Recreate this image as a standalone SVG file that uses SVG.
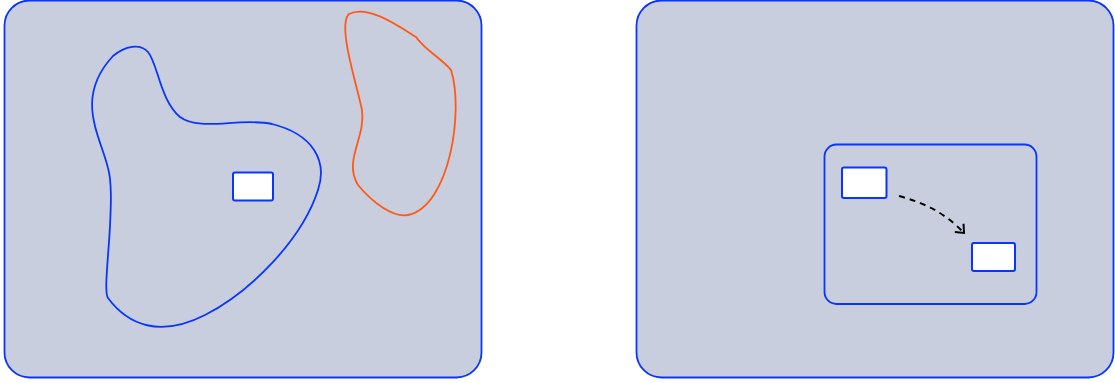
<svg xmlns="http://www.w3.org/2000/svg" width="1115" height="383" viewBox="0 0 1115 383">
<style>
.panel{fill:#c8cedd;stroke:#0a35ff;stroke-width:1.8}
.box{fill:#ffffff;stroke:#0a35ff;stroke-width:2}
.blob{fill:none;stroke-width:1.8}
.conn{fill:none;stroke:#000;stroke-width:2;stroke-dasharray:6,5}
</style>
<defs>
<marker id="arr" markerWidth="14" markerHeight="14" refX="9" refY="7" orient="auto" markerUnits="userSpaceOnUse">
<path d="M2,1 L9,7 L2,13" fill="none" stroke="#000" stroke-width="2"/>
</marker>
</defs>
<g id="panel-left">
<rect class="panel" x="4.5" y="0.5" width="477" height="377" rx="25"/>
</g>
<g id="blob-blue">
<path class="blob" stroke="#0a35ff" d="M113,56 C125,46 140,43 148,52 C158,64 160,100 180,117 C200,132 240,117 272,124 C312,134 328,160 318,190 C302,240 250,292 205,315 C160,338 128,325 108,298 C104,292 108,262 110,226 C111,205 112,182 108,168 C100,135 74,98 113,56 Z"/>
</g>
<g id="blob-orange">
<path class="blob" stroke="#ff5a14" d="M416,37 C400,27 368,4 349,14 C337,25 357,85 362,110 C366,138 343,160 358,185 C372,202 393,218 408,215 C450,206 464,110 451,70 C441,58 425,50 416,37 Z"/>
</g>
<g id="node-left">
<rect class="box" x="233" y="172.5" width="40" height="28" rx="2"/>
</g>
<g id="panel-right">
<rect class="panel" x="636.5" y="0.5" width="477" height="377" rx="25"/>
</g>
<g id="container">
<rect class="panel" x="824.5" y="144.5" width="212" height="159.5" rx="12"/>
</g>
<g id="node-a">
<rect class="box" x="842" y="167.5" width="44.5" height="30.5" rx="2"/>
</g>
<g id="node-b">
<rect class="box" x="972" y="243" width="43" height="28" rx="2"/>
</g>
<g id="connectors">
<path class="conn" d="M899,196 C925,203 945,213 964,233" marker-end="url(#arr)"/>
</g>
</svg>
